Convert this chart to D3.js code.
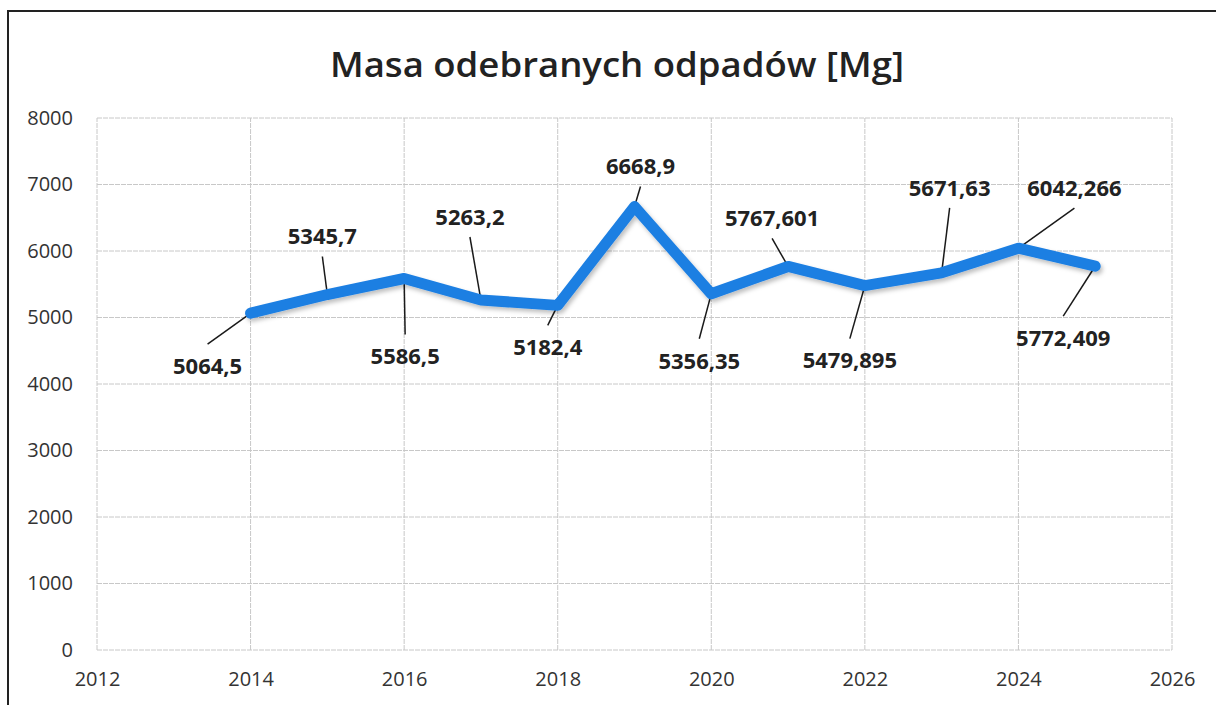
<!DOCTYPE html>
<html>
<head>
<meta charset="utf-8">
<script src="https://cdn.jsdelivr.net/npm/d3@7"></script>
<style>
  body { margin: 0; background: #fff; }
  svg text { font-family: "Open Sans", sans-serif; }
</style>
</head>
<body>
<div id="chart"></div>
<script>
// mass of collected waste per year
const years = [2014, 2015, 2016, 2017, 2018, 2019, 2020, 2021, 2022, 2023, 2024, 2025];
const values = [5064.5, 5345.7, 5586.5, 5263.2, 5182.4, 6668.9, 5356.35, 5767.601, 5479.895, 5671.63, 6042.266, 5772.409];
const valueLabels = ["5064,5", "5345,7", "5586,5", "5263,2", "5182,4", "6668,9", "5356,35", "5767,601", "5479,895", "5671,63", "6042,266", "5772,409"];
const xTicks = [2012, 2014, 2016, 2018, 2020, 2022, 2024, 2026];
const yTicks = [0, 1000, 2000, 3000, 4000, 5000, 6000, 7000, 8000];
// label placement relative to its point (px): text center and leader line
const labelOffsets = [
  [-43, 53], [-5, -58], [1, 78], [-11, -83], [-10, 42], [6, -40],
  [-12, 67], [-16, -48], [-15, 75], [8, -85], [56, -60], [-32, 72]
];

const W = 1216, H = 705;
const margin = { top: 118, right: 44, bottom: 55, left: 97 };

const svg = d3.select("#chart").append("svg")
  .attr("width", W).attr("height", H);

// frame of the scanned chart (top and left edges visible)
svg.append("rect")
  .attr("x", 8).attr("y", 11)
  .attr("width", W + 20).attr("height", H + 20)
  .attr("fill", "none").attr("stroke", "#222").attr("stroke-width", 2);

const x = d3.scaleLinear().domain([2012, 2026]).range([margin.left, W - margin.right]);
const y = d3.scaleLinear().domain([0, 8000]).range([H - margin.bottom, margin.top]);

// title
svg.append("text")
  .attr("x", 617).attr("y", 77)
  .attr("text-anchor", "middle")
  .attr("font-size", 35)
  .attr("font-weight", 600)
  .attr("fill", "#222")
  .attr("textLength", 574).attr("lengthAdjust", "spacingAndGlyphs")
  .text("Masa odebranych odpadów [Mg]");

// gridlines
svg.append("g")
  .selectAll("line")
  .data(yTicks)
  .join("line")
  .attr("x1", x(2012)).attr("x2", x(2026))
  .attr("y1", (d) => y(d)).attr("y2", (d) => y(d))
  .attr("stroke", "#c8c8c8").attr("stroke-width", 1)
  .attr("stroke-dasharray", "5,1");

svg.append("g")
  .selectAll("line")
  .data(xTicks)
  .join("line")
  .attr("x1", (d) => x(d)).attr("x2", (d) => x(d))
  .attr("y1", y(0)).attr("y2", y(8000))
  .attr("stroke", "#c8c8c8").attr("stroke-width", 1)
  .attr("stroke-dasharray", "5,1");

// Y axis
const yAxis = svg.append("g")
  .attr("transform", `translate(${margin.left},0)`)
  .call(d3.axisLeft(y).tickValues(yTicks).tickFormat(d3.format("d")).tickSize(0).tickPadding(24));
yAxis.select(".domain").remove();
yAxis.selectAll("text")
  .attr("font-size", 20).attr("fill", "#333")
  .attr("font-family", "Open Sans, sans-serif");

// X axis
const xAxis = svg.append("g")
  .attr("transform", `translate(0,${y(0)})`)
  .call(d3.axisBottom(x).tickValues(xTicks).tickFormat(d3.format("d")).tickSize(0).tickPadding(22));
xAxis.select(".domain").remove();
xAxis.selectAll("text")
  .attr("font-size", 20).attr("fill", "#333")
  .attr("font-family", "Open Sans, sans-serif");

// shadow for the series line
const defs = svg.append("defs");
const f = defs.append("filter").attr("id", "shadow")
  .attr("x", "-5%").attr("y", "-20%").attr("width", "110%").attr("height", "140%");
f.append("feDropShadow")
  .attr("dx", 2).attr("dy", 3).attr("stdDeviation", 2)
  .attr("flood-color", "#000").attr("flood-opacity", 0.25);

const points = years.map((yr, i) => [yr, values[i]]);

// leader lines
const labels = svg.append("g");
points.forEach((p, i) => {
  const px = x(p[0]), py = y(p[1]);
  const [dx, dy] = labelOffsets[i];
  const tx = px + dx, ty = py + dy;
  // line from label edge to point
  const startY = dy > 0 ? ty - 22 : ty + 20;
  const gap = 4;
  const len = Math.hypot(px - tx, py - startY);
  const ex = px - (px - tx) * gap / len, ey = py - (py - startY) * gap / len;
  labels.append("line")
    .attr("x1", tx).attr("y1", startY)
    .attr("x2", ex).attr("y2", ey)
    .attr("stroke", "#1a1a1a").attr("stroke-width", 1.5);
});

// series line
svg.append("path")
  .datum(points)
  .attr("fill", "none")
  .attr("stroke", "#1d7fe2")
  .attr("stroke-width", 11)
  .attr("stroke-linejoin", "round")
  .attr("stroke-linecap", "round")
  .attr("filter", "url(#shadow)")
  .attr("d", d3.line().x((d) => x(d[0])).y((d) => y(d[1])));

// value labels
points.forEach((p, i) => {
  const [dx, dy] = labelOffsets[i];
  svg.append("text")
    .attr("x", x(p[0]) + dx).attr("y", y(p[1]) + dy)
    .attr("dy", "0.35em")
    .attr("text-anchor", "middle")
    .attr("font-size", 22).attr("font-weight", "bold")
    .attr("fill", "#222")
    .text(valueLabels[i]);
});
</script>
</body>
</html>
